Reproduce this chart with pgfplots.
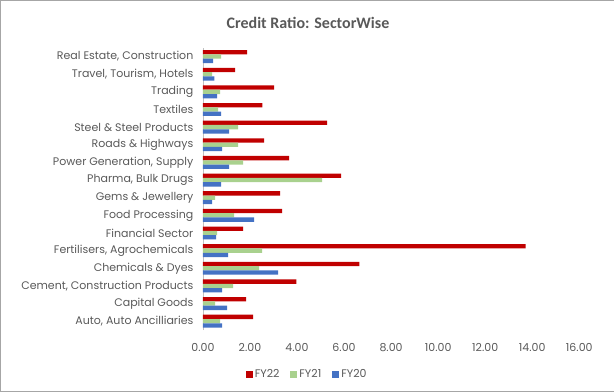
\documentclass[border=0pt]{standalone}
\usepackage{pgfplots}
\pgfplotsset{compat=1.18}
\usepackage{fontspec}
\setmainfont{Poppins}
\newfontfamily\titlefont{Carlito}
\definecolor{txt}{HTML}{595959}
\definecolor{cred}{HTML}{C00000}
\definecolor{cgreen}{HTML}{A9D18E}
\definecolor{cblue}{HTML}{4472C4}
\definecolor{frame}{HTML}{A6A6A6}
\begin{document}
\begin{tikzpicture}[x=1pt,y=1pt]
\draw[frame] (0.5,0.5) rectangle (613.5,391.5);
\node[font=\titlefont\bfseries\fontsize{16}{18}\selectfont, text=txt] at (308,369) {Credit Ratio: SectorWise};
\begin{axis}[
  at={(203pt,62pt)}, anchor=south west,
  scale only axis, width=376pt, height=282pt,
  xbar, bar width=4.3pt,
  xmin=0, xmax=16, xtick={0,2,...,16},
  ymin=-0.5, ymax=15.5,
  ytick={0,...,15},
  yticklabels={{Auto, Auto Ancilliaries},{Capital Goods},{Cement, Construction Products},{Chemicals \& Dyes},{Fertilisers, Agrochemicals},{Financial Sector},{Food Processing},{Gems \& Jewellery},{Pharma, Bulk Drugs},{Power Generation, Supply},{Roads \& Highways},{Steel \& Steel Products},{Textiles},{Trading},{Travel, Tourism, Hotels},{Real Estate, Construction}},
  axis x line*=bottom,
  axis y line*=left,
  y axis line style={draw=frame!70},
  x axis line style={draw=none},
  major tick length=0pt,
  xticklabel style={font=\fontsize{11}{12}\selectfont, text=txt, yshift=-10pt},
  yticklabel style={font=\fontsize{11}{12}\selectfont, text=txt, xshift=-6pt},
  xticklabels={0.00,2.00,4.00,6.00,8.00,10.00,12.00,14.00,16.00},
  legend style={at={(0.277,-0.156)}, anchor=center, legend columns=3, draw=none, font=\fontsize{11}{12}\selectfont, text=txt, /tikz/every even column/.append style={column sep=9pt}},
  legend image code/.code={\fill[#1] (0pt,-3.5pt) rectangle (7pt,3.5pt);},
]
\addplot[draw=none, fill=cred, bar shift=4.3pt] coordinates {
(2.14,0) (1.84,1) (3.97,2) (6.65,3) (13.72,4) (1.71,5) (3.37,6) (3.28,7) (5.88,8) (3.67,9) (2.60,10) (5.28,11) (2.53,12) (3.03,13) (1.37,14) (1.88,15)};
\addplot[draw=none, fill=cgreen, bar shift=0pt] coordinates {
(0.73,0) (0.52,1) (1.28,2) (2.39,3) (2.52,4) (0.60,5) (1.33,6) (0.52,7) (5.07,8) (1.71,9) (1.50,10) (1.50,11) (0.65,12) (0.73,13) (0.39,14) (0.77,15)};
\addplot[draw=none, fill=cblue, bar shift=-4.3pt] coordinates {
(0.82,0) (1.03,1) (0.82,2) (3.20,3) (1.07,4) (0.56,5) (2.18,6) (0.39,7) (0.77,8) (1.11,9) (0.82,10) (1.11,11) (0.77,12) (0.60,13) (0.49,14) (0.43,15)};
\legend{FY22,FY21,FY20}
\end{axis}
\end{tikzpicture}
\end{document}
